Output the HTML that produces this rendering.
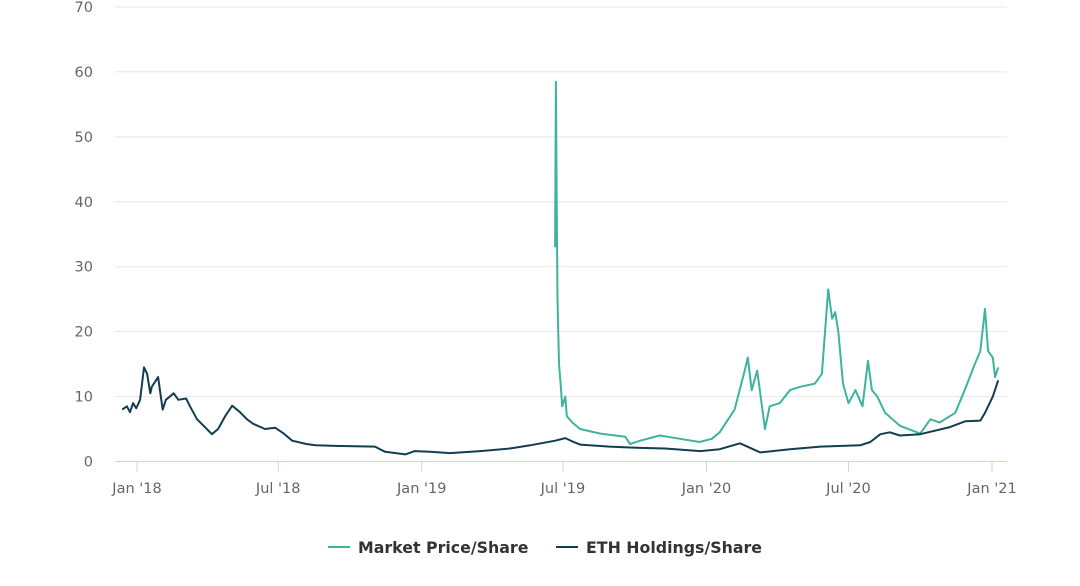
<!DOCTYPE html>
<html><head><meta charset="utf-8"><style>
body{margin:0;background:#fff;font-family:"DejaVu Sans",sans-serif}
svg text{font-family:"DejaVu Sans","Liberation Sans",sans-serif}
</style></head><body>
<svg id="chart" width="1080" height="582" xmlns="http://www.w3.org/2000/svg">
<g id="grid"></g><g id="series"></g><g id="legend"></g>
</svg>
<script>
const yTicks=[0,10,20,30,40,50,60,70];
const xTickLabels=["Jan '18","Jul '18","Jan '19","Jul '19","Jan '20","Jul '20","Jan '21"];
const xTickDays=[0,181,365,546,730,912,1096];
const ethDays=[-19,-13,-9,-5,-1,4,9,13,17,19,27,33,37,47,53,63,68,77,87,96,104,113,122,132,141,149,164,177,187,199,217,229,254,305,318,344,356,376,401,440,478,504,536,549,558,568,606,645,677,722,747,773,799,837,876,927,940,953,965,978,1004,1042,1062,1081,1087,1097,1104];
const ethVals=[8,8.5,7.6,9,8.2,9.5,14.5,13.5,10.5,11.5,13,8,9.5,10.5,9.5,9.7,8.5,6.5,5.3,4.2,5,7,8.6,7.6,6.5,5.8,5,5.2,4.4,3.2,2.7,2.5,2.4,2.3,1.5,1.1,1.6,1.5,1.3,1.6,2.0,2.5,3.2,3.6,3.1,2.6,2.3,2.1,2.0,1.6,1.9,2.8,1.4,1.9,2.3,2.5,3,4.2,4.5,4.0,4.2,5.3,6.2,6.3,7.5,10,12.5];
const mktDays=[536,537,538,539,541,543,545,549,551,558,568,594,626,632,645,670,696,721,737,747,766,779,783,788,795,805,811,824,837,850,869,878,886,891,895,899,905,912,921,930,937,942,949,959,978,1004,1017,1029,1049,1061,1074,1081,1087,1091,1097,1100,1104];
const mktVals=[33,58.5,40,25,15,12,8.5,10,7,6,5,4.3,3.8,2.7,3.2,4.0,3.5,3.0,3.5,4.5,8,14,16,11,14,5,8.5,9,11,11.5,12,13.5,26.5,22,23,20,12,9,11,8.5,15.5,11,10,7.5,5.5,4.3,6.5,6,7.5,11,15,17,23.5,17,16,13,14.5];
const NS="http://www.w3.org/2000/svg";
const x=d=>137+d*(992-137)/1096;
const y=v=>461.5-v*(461.5-7)/70;
const grid=document.getElementById('grid');
function mk(tag,attrs,parent,txt){const e=document.createElementNS(NS,tag);for(const k in attrs)e.setAttribute(k,attrs[k]);if(txt!==undefined)e.textContent=txt;parent.appendChild(e);return e;}
yTicks.forEach(t=>{
 const l=mk('line',{x1:115,x2:1007,y1:y(t),y2:y(t),stroke:t===0?'#ccd6eb':'#e6e6e6','stroke-width':1},grid);
 
 
 const tx=mk('text',{x:93,y:y(t)+5,'text-anchor':'end','font-size':14.5,fill:'#666'},grid,String(t));
 
 
});
xTickDays.forEach((d,i)=>{
 const l=mk('line',{x1:x(d),x2:x(d),y1:462,y2:472,stroke:'#ccd6eb'},grid);
 
 
 const tx=mk('text',{x:x(d),y:493,'text-anchor':'middle','font-size':14.5,fill:'#666'},grid,xTickLabels[i]);
 
 
});
const ser=document.getElementById('series');
function line(ds,vs,col,name){
 const d=ds.map((dd,i)=>(i?'L':'M')+x(dd).toFixed(1)+','+y(vs[i]).toFixed(1)).join('');
 const p=mk('path',{d:d,fill:'none',stroke:col,'stroke-width':2,'stroke-linejoin':'round'},ser);
 
 
}
line(mktDays,mktVals,'#3fb39b','market-price-line');
line(ethDays,ethVals,'#143d4e','eth-holdings-line');
const lg=document.getElementById('legend');
[[328,'#3fb39b','Market Price/Share','legend-market-price'],[556,'#143d4e','ETH Holdings/Share','legend-eth-holdings']].forEach(e=>{
 const g=mk('g',{},lg);
 
 
 mk('line',{x1:e[0],x2:e[0]+22,y1:547,y2:547,stroke:e[1],'stroke-width':2},g);
 mk('text',{x:e[0]+30,y:553,'font-size':15.8,'font-weight':'bold',fill:'#333'},g,e[2]);
});
</script>
</body></html>
